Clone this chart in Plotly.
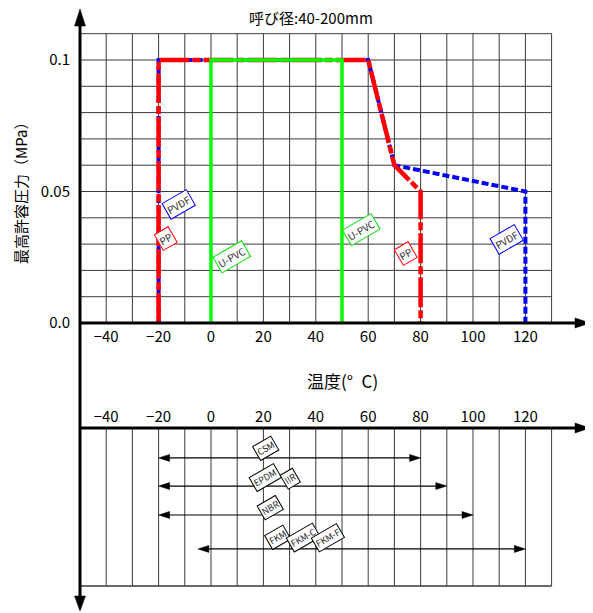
import plotly.graph_objects as go

# ---- data ----
temp_pp = [-20, -20, 60, 70, 80, 80]
press_pp = [0, 0.1, 0.1, 0.06, 0.05, 0]
temp_pvdf = [-20, -20, 60, 70, 120, 120]
press_pvdf = [0, 0.1, 0.1, 0.06, 0.05, 0]
temp_upvc = [0, 0, 50, 50]
press_upvc = [0, 0.1, 0.1, 0]

x_ticks = [-40, -20, 0, 20, 40, 60, 80, 100, 120]
y_ticks = [0, 0.05, 0.1]
y_ticktext = ["0.0", "0.05", "0.1"]

seal_min = [-20, -20, -20, -5]
seal_max = [80, 90, 100, 120]
seal_rows = [-0.0513, -0.0620, -0.0730, -0.0859]
seal_labels = [("CSM", 20.8, -0.0479), ("EPDM", 20.8, -0.0589), ("IIR", 30.4, -0.0593),
               ("NBR", 22.7, -0.0700), ("FKM", 25.4, -0.0817), ("FKM-C", 35.3, -0.0817),
               ("FKM-F", 44.8, -0.0817)]

series_labels = [("PVDF", -12.4, 0.0452, "#0000ff"), ("PP", -17.3, 0.0323, "#ff0000"),
                 ("U-PVC", 8.2, 0.0251, "#00e000"), ("U-PVC", 57.4, 0.0357, "#00e000"),
                 ("PP", 74.3, 0.0266, "#ff0000"), ("PVDF", 112.8, 0.0319, "#0000ff")]

OFF = 8  # page body margin
W, H = 593 - OFF, 613 - OFF
AXIS_PAGE_X = 80          # page x of the temperature -50 (left axis)
PLOT_LEFT_PAGE = 64       # plot area starts a bit left of the axis so arrowheads are not clipped
L, R = PLOT_LEFT_PAGE - OFF, 3
PW = W - L - R
PXU = 2.62
XMIN = -50
XR0 = XMIN - (AXIS_PAGE_X - PLOT_LEFT_PAGE) / PXU
XMAX = XR0 + PW / PXU
YPX = 2630.0
Y0 = 323 - OFF  # fig px of y=0
YMAX = Y0 / YPX
YMIN = -(H - Y0) / YPX


def px(page_x):
    return (page_x - OFF - L) / PW


def py(page_y):
    return 1 - (page_y - OFF) / H


def dy(page_y):
    return (323 - page_y) / YPX


FONT = "Noto Sans CJK JP, Noto Sans, sans-serif"

fig = go.Figure()

shapes = []
GRID = "#3a3a3a"
# top grid
for v in range(-40, 131, 10):
    shapes.append(dict(type="line", xref="x", yref="y", x0=v, x1=v, y0=0, y1=0.11,
                       line=dict(color=GRID, width=1), layer="below"))
for i in range(1, 12):
    h = i * 0.01
    shapes.append(dict(type="line", xref="x", yref="y", x0=XMIN, x1=130, y0=h, y1=h,
                       line=dict(color=GRID, width=1), layer="below"))
# bottom grid
for v in range(-40, 131, 10):
    shapes.append(dict(type="line", xref="x", yref="y", x0=v, x1=v, y0=-0.04, y1=-0.1,
                       line=dict(color=GRID, width=1), layer="below"))
shapes.append(dict(type="line", xref="x", yref="y", x0=XMIN, x1=130, y0=-0.1, y1=-0.1,
                   line=dict(color=GRID, width=1.5), layer="below"))

# axes
y_top = dy(22)
y_bot = dy(598)
shapes.append(dict(type="line", xref="x", yref="y", x0=XMIN, x1=XMIN, y0=y_bot, y1=y_top,
                   line=dict(color="black", width=3)))
x_end = XMAX - 12 / PXU
shapes.append(dict(type="line", xref="x", yref="y", x0=XMIN, x1=x_end, y0=0, y1=0,
                   line=dict(color="black", width=3)))
y2 = dy(428)
shapes.append(dict(type="line", xref="x", yref="y", x0=XMIN, x1=x_end, y0=y2, y1=y2,
                   line=dict(color="black", width=3)))


def head(xa, ya, path):
    return dict(type="path", xref="x", yref="y", xsizemode="pixel", ysizemode="pixel",
                xanchor=xa, yanchor=ya, path=path, fillcolor="black",
                line=dict(color="black", width=0.5))


# big arrowheads
y_tip_top = dy(9)
y_tip_bot = dy(611)
shapes.append(head(XMIN, y_tip_top, "M 0 0 L -5.5 -17 L 5.5 -17 Z"))
shapes.append(head(XMIN, y_tip_bot, "M 0 0 L -5.5 15 L 5.5 15 Z"))
shapes.append(head(XMAX, 0, "M 0 0 L -15 5 L -15 -5 Z"))
shapes.append(head(XMAX, y2, "M 0 0 L -15 5 L -15 -5 Z"))

# range arrows (lower section)
for lo, hi, yy in zip(seal_min, seal_max, seal_rows):
    shapes.append(dict(type="line", xref="x", yref="y", x0=lo + 8 / PXU, x1=hi - 8 / PXU,
                       y0=yy, y1=yy, line=dict(color="black", width=1.2)))
    shapes.append(head(lo, yy, "M 0 0 L 11 3.5 L 11 -3.5 Z"))
    shapes.append(head(hi, yy, "M 0 0 L -11 3.5 L -11 -3.5 Z"))

# series
fig.add_trace(go.Scatter(x=temp_pvdf, y=press_pvdf, mode="lines", name="PVDF",
                         line=dict(color="#0000ff", width=4, dash="7px,3px")))
fig.add_trace(go.Scatter(x=temp_pp, y=press_pp, mode="lines", name="PP",
                         line=dict(color="#ff0000", width=4.5, dash="30px,3px,8px,3px")))
fig.add_trace(go.Scatter(x=temp_upvc, y=press_upvc, mode="lines", name="U-PVC",
                         line=dict(color="#00ff00", width=3.5)))

annotations = []
for t, x, y, c in series_labels:
    annotations.append(dict(x=x, y=y, xref="x", yref="y", text=t, showarrow=False,
                            xanchor="center", yanchor="middle",
                            textangle=-30, font=dict(family=FONT, size=10, color="#333"),
                            bordercolor=c, borderwidth=1, borderpad=1, bgcolor="white"))
for t, x, y in seal_labels:
    annotations.append(dict(x=x, y=y, xref="x", yref="y", text=t, showarrow=False,
                            xanchor="center", yanchor="middle",
                            textangle=-30, font=dict(family=FONT, size=9, color="#222"),
                            bordercolor="black", borderwidth=1, borderpad=1, bgcolor="white"))

annotations.append(dict(x=px(311), y=py(18), xref="paper", yref="paper",
                        xanchor="center", yanchor="middle",
                        text="呼び径:40-200mm", showarrow=False,
                        font=dict(family=FONT, size=15, color="black")))
annotations.append(dict(x=px(342), y=py(380), xref="paper", yref="paper",
                        xanchor="center", yanchor="middle",
                        text="温度(°\u2002C)", showarrow=False,
                        font=dict(family=FONT, size=17, color="black")))
annotations.append(dict(x=px(20), y=py(190), xref="paper", yref="paper",
                        xanchor="center", yanchor="middle",
                        text="最高許容圧力（MPa）", showarrow=False, textangle=-90,
                        font=dict(family=FONT, size=15, color="black")))

fig.update_layout(
    width=W, height=H,
    margin=dict(l=L, r=R, t=0, b=0),
    plot_bgcolor="white", paper_bgcolor="white",
    showlegend=False,
    shapes=shapes, annotations=annotations,
    xaxis=dict(range=[XR0, XMAX], anchor="free", position=py(323),
               tickvals=x_ticks, ticks="", showgrid=False, zeroline=False, showline=False,
               tickfont=dict(family=FONT, size=15, color="black"), automargin=False,
               ticklabelstandoff=3),
    xaxis2=dict(range=[XR0, XMAX], overlaying="x", matches="x", anchor="free",
                position=py(428), side="top",
                tickvals=x_ticks, ticks="", showgrid=False, zeroline=False, showline=False,
                tickfont=dict(family=FONT, size=15, color="black"), automargin=False,
                ticklabelstandoff=3),
    yaxis=dict(range=[YMIN, YMAX], tickvals=y_ticks, ticktext=y_ticktext, ticks="",
               anchor="free", side="left",
               position=(AXIS_PAGE_X - PLOT_LEFT_PAGE) / PW,
               showgrid=False, zeroline=False, showline=False, automargin=False,
               tickfont=dict(family=FONT, size=15, color="black"), ticklabelstandoff=10),
)
# invisible trace so the second x axis shows its tick labels
fig.add_trace(go.Scatter(x=[XMIN], y=[YMIN], xaxis="x2", mode="markers",
                         marker=dict(opacity=0), hoverinfo="skip"))

fig.write_html("out.html")
